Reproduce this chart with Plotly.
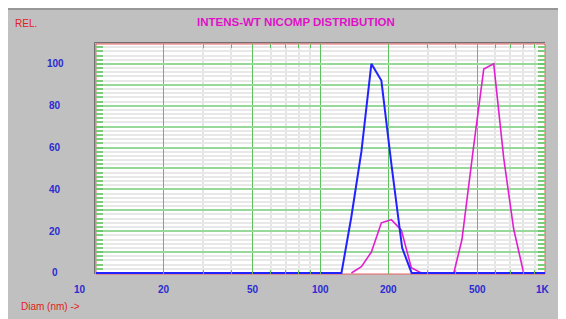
import math
import plotly.graph_objects as go

# ---- data ----
blue_diam = [10, 124.0, 137.3, 152.1, 168.5, 186.7, 207.5, 231.0, 254.6, 1000]
blue_val = [0, 0, 27, 58, 100, 92, 51, 12, 0, 0]

mag_diam = [137.3, 152.1, 168.5, 186.7, 206.8, 229.1, 253.8, 281.1,
            392.5, 426.7, 481.6, 533.5, 591.0, 654.6, 725.2, 803.4]
mag_val = [0, 3, 10, 24, 25.5, 20.5, 2.5, 0,
           0, 16, 61, 97.5, 100, 55, 21, 0]

x_major = [20, 50, 100, 200, 500]
x_minor = [30, 40, 60, 70, 80, 90, 300, 400, 600, 700, 800, 900]
x_label_vals = [10, 20, 50, 100, 200, 500, 1000]
x_label_text = ["10", "20", "50", "100", "200", "500", "1K"]
y_major = [10, 20, 30, 40, 50, 60, 70, 80, 90, 100]
y_minor = [v for v in range(2, 110, 2) if v % 10 != 0]
y_label_vals = [0, 20, 40, 60, 80, 100]

# page has an 8px body margin; figure fills the rest of the 566x319 window
W, H = 558, 311
PX_L, PX_R, PX_T, PX_B = 96, 545, 44, 274  # plot area in page pixels
L, T = PX_L - 8, PX_T - 8
R, B = 566 - PX_R, 319 - PX_B
PW, PH = PX_R - PX_L, PX_B - PX_T


def xp(px):
    return (px - PX_L) / PW


def yp(py):
    return (PX_B - py) / PH


GRAY = "#c0c0c0"
LBL = "#2b2bd0"
FONT = "Liberation Sans"

fig = go.Figure()
fig.add_trace(go.Scatter(x=mag_diam, y=mag_val, mode="lines",
                         line=dict(color="#e020d0", width=1.6), hoverinfo="skip"))
fig.add_trace(go.Scatter(x=blue_diam, y=blue_val, mode="lines",
                         line=dict(color="#2222ff", width=2), hoverinfo="skip"))

ann = []
for v, t in zip(x_label_vals, x_label_text):
    shift = -16 if v == 10 else (-2 if v == 1000 else 0)
    ann.append(dict(x=math.log10(v), y=yp(289), xref="x", yref="paper", text="<b>%s</b>" % t,
                    showarrow=False, xanchor="center", yanchor="middle", xshift=shift,
                    font=dict(family=FONT, size=10, color=LBL)))
for v in y_label_vals:
    ann.append(dict(x=xp(55), y=v, xref="paper", yref="y", text="<b>%d</b>" % v,
                    showarrow=False, xanchor="center", yanchor="middle",
                    font=dict(family=FONT, size=10, color=LBL)))
ann.append(dict(x=xp(296), y=yp(22), xref="paper", yref="paper",
                text="<b>INTENS-WT NICOMP DISTRIBUTION</b>", showarrow=False,
                xanchor="center", yanchor="middle",
                font=dict(family=FONT, size=11.5, color="#e010c8")))
ann.append(dict(x=xp(13), y=yp(23), xref="paper", yref="paper",
                text="REL.", showarrow=False, xanchor="left", yanchor="middle",
                font=dict(family=FONT, size=10, color="#e02020")))
ann.append(dict(x=xp(19), y=yp(306), xref="paper", yref="paper",
                text="Diam (nm) ->", showarrow=False, xanchor="left", yanchor="middle",
                font=dict(family=FONT, size=10, color="#e02020")))

shapes = [
    # top dark edge of the window
    dict(type="line", xref="paper", yref="paper", x0=xp(0), x1=xp(600),
         y0=yp(9), y1=yp(9), line=dict(color="#8a8a8a", width=1.5), layer="below"),
    # shadow around plot frame
    dict(type="line", xref="paper", yref="paper", x0=xp(94.5), x1=xp(94.5), y0=0, y1=yp(42.5),
         line=dict(color="#707070", width=1), layer="above"),
    dict(type="line", xref="paper", yref="paper", x0=xp(94.5), x1=1, y0=yp(42.5), y1=yp(42.5),
         line=dict(color="#707070", width=1), layer="above"),
    # red frame
    dict(type="rect", xref="paper", yref="paper", x0=0, x1=1, y0=0, y1=1,
         line=dict(color="#e86060", width=1), layer="below"),
]

fig.update_layout(
    width=W, height=H,
    margin=dict(l=L, r=R, t=T, b=B),
    paper_bgcolor=GRAY, plot_bgcolor="white",
    showlegend=False,
    annotations=ann, shapes=shapes,
    xaxis=dict(type="log", range=[1, 3], tickmode="array", tickvals=x_major,
               showticklabels=False, showgrid=True, gridcolor="#5cc05c", gridwidth=1,
               ticks="inside", ticklen=4, tickcolor="#5cc05c", mirror="allticks",
               showline=False, zeroline=False,
               minor=dict(tickmode="array", tickvals=x_minor, showgrid=True,
                          gridcolor="#e4e4e4", gridwidth=1.5, ticks="inside",
                          ticklen=4, tickcolor="#5cc05c")),
    yaxis=dict(range=[-0.5, 109.5], tickmode="array", tickvals=y_major,
               showticklabels=False, showgrid=True, gridcolor="#98d898", gridwidth=1.6,
               ticks="inside", ticklen=7, tickcolor="#6cc86c", tickwidth=2, mirror="allticks",
               showline=False, zeroline=False,
               minor=dict(tickmode="array", tickvals=y_minor, showgrid=True, gridcolor="#e8e8e8",
                          gridwidth=1.5, ticks="inside", ticklen=7, tickcolor="#7ccc7c",
                          tickwidth=2)),
)

fig.write_html("out.html")
